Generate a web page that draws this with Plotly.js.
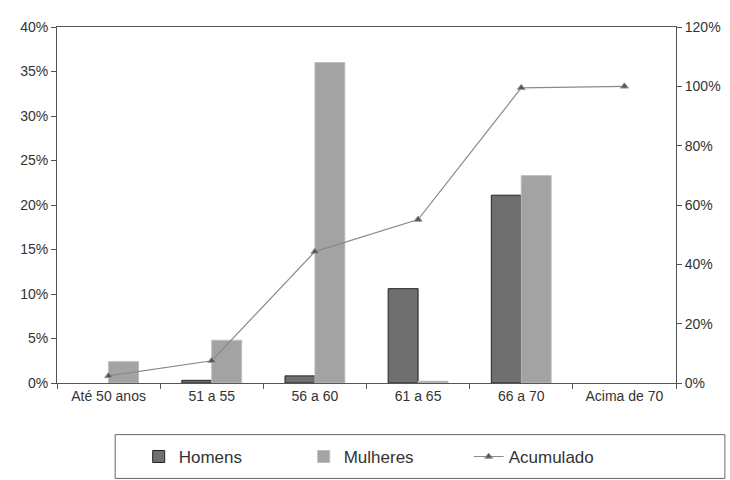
<!DOCTYPE html>
<html>
<head>
<meta charset="utf-8">
<script src="https://cdn.plot.ly/plotly-3.0.1.min.js"></script>
<style>html,body{margin:0;padding:0;background:#fff;}#chart{width:730px;height:480px;}</style>
</head>
<body>
<div id="chart"></div>
<script>
const categories = ["Até 50 anos", "51 a 55", "56 a 60", "61 a 65", "66 a 70", "Acima de 70"];
const homens = [null, 0.003, 0.008, 0.106, 0.211, null];
const mulheres = [0.024, 0.048, 0.36, 0.002, 0.233, null];
const acumulado = [0.024, 0.075, 0.443, 0.551, 0.995, 1.0];
const leftTicks = [0, 0.05, 0.10, 0.15, 0.20, 0.25, 0.30, 0.35, 0.40];
const rightTicks = [0, 0.2, 0.4, 0.6, 0.8, 1.0, 1.2];

const traces = [
  {type: 'bar', name: 'Homens', x: categories, y: homens,
   marker: {color: '#6f6f6f', line: {color: '#222', width: 1}}},
  {type: 'bar', name: 'Mulheres', x: categories, y: mulheres,
   marker: {color: '#a3a3a3', line: {color: '#bdbdbd', width: 1}}},
  {type: 'scatter', mode: 'lines+markers', name: 'Acumulado', x: categories, y: acumulado, yaxis: 'y2',
   line: {color: '#8a8a8a', width: 1.2},
   marker: {symbol: 'triangle-up', size: 7, color: '#555', line: {color: '#999', width: 1}}}
];

const tickFont = {family: 'Liberation Sans, Arial, sans-serif', size: 14, color: '#333'};
const layout = {
  width: 730, height: 480,
  margin: {l: 57, r: 54, t: 27, b: 97},
  paper_bgcolor: '#fff', plot_bgcolor: '#fff',
  barmode: 'group', bargap: 0.42, bargroupgap: 0,
  showlegend: true,
  font: {family: 'Liberation Sans, Arial, sans-serif', color: '#333'},
  xaxis: {type: 'category', showline: true, linecolor: '#555', linewidth: 1, mirror: true,
          ticks: 'outside', tickson: 'boundaries', ticklen: 5, tickcolor: '#555',
          showgrid: false, tickfont: tickFont},
  yaxis: {range: [0, 0.4], tickvals: leftTicks, tickformat: '.0%', showline: true, linecolor: '#555',
          ticks: 'outside', ticklen: 5, tickcolor: '#555', showgrid: false, zeroline: false, tickfont: tickFont},
  yaxis2: {range: [0, 1.2], tickvals: rightTicks, tickformat: '.0%', overlaying: 'y', side: 'right',
           showline: true, linecolor: '#555', ticks: 'outside', ticklen: 5, tickcolor: '#555',
           showgrid: false, zeroline: false, tickfont: tickFont},
  legend: {orientation: 'h', xref: 'container', yref: 'container', x: 0.19, xanchor: 'left', y: 0.048, yanchor: 'middle',
           borderwidth: 0, entrywidth: 120, entrywidthmode: 'pixels', bgcolor: 'rgba(0,0,0,0)',
           font: {family: 'Liberation Sans, Arial, sans-serif', size: 17, color: '#333'},
           traceorder: 'normal'},
  shapes: [{type: 'rect', xref: 'paper', yref: 'paper', x0: 0.094, x1: 1.079, y0: -0.268, y1: -0.145,
            line: {color: '#666', width: 1}, fillcolor: 'rgba(0,0,0,0)', layer: 'below'}]
};

Plotly.newPlot('chart', traces, layout, {displayModeBar: false, staticPlot: true});
</script>
</body>
</html>
